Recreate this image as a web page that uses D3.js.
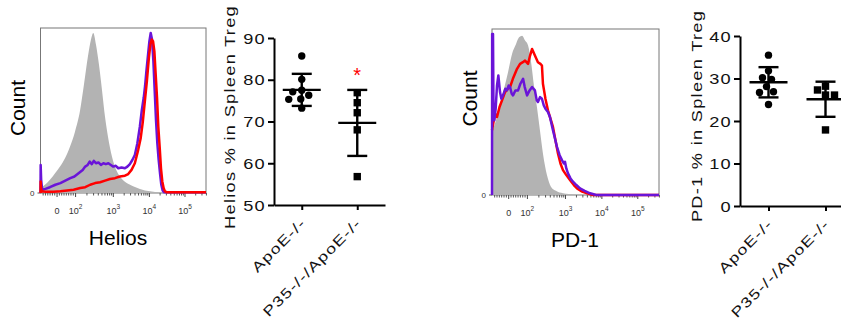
<!DOCTYPE html>
<html>
<head>
<meta charset="utf-8">
<script src="https://cdnjs.cloudflare.com/ajax/libs/d3/7.8.5/d3.min.js"></script>
<style>
  body { margin: 0; background: #fff; }
  svg { display: block; }
</style>
</head>
<body>
<div id="chart"></div>
<script>
const FONT = '"Liberation Sans", Arial, sans-serif'

// histogram x axis is in display channels (0..1000 across the plot)
const histTickChannels = [97, 209, 437, 655, 870]
const histTickLabels = ['0', '10^2', '10^3', '10^4', '10^5']

// Helios histograms: [channel, % of max]
const heliosControl = [[0, 3], [27, 5], [57, 8], [88, 12], [118, 16], [148, 21], [178, 28], [208, 37], [239, 50],
  [263, 66], [287, 83], [305, 93], [319, 97], [335, 90], [353, 78], [372, 62], [390, 46], [408, 34], [432, 22],
  [462, 13], [492, 8.5], [541, 5], [601, 2.5], [662, 1], [722, 0.3], [782, 0], [1000, 0]]
const heliosApoEHist = [[0, 0], [1, 17], [4, 8], [10, 2], [30, 2.5], [57, 3.5], [90, 5], [120, 6], [150, 7.5], [180, 9],
  [205, 10], [230, 12], [255, 14], [270, 16], [285, 17], [297, 19], [310, 17.5], [322, 19.5], [335, 18], [350, 18.5],
  [365, 17], [380, 18], [395, 17.5], [410, 18], [425, 17], [440, 16], [455, 16.5], [470, 15], [490, 15.5], [510, 15],
  [525, 16], [540, 17.5], [555, 20], [570, 23], [585, 30], [600, 40], [612, 50], [624, 58], [632, 65], [640, 74],
  [650, 84], [658, 92], [666, 97], [674, 93], [682, 80], [690, 62], [698, 44], [706, 30], [714, 20], [722, 12],
  [730, 5], [738, 1.5], [746, 0.5], [1000, 0.5]]
const heliosP35Hist = [[0, 0], [1, 7], [3, 3], [8, 1], [30, 0.8], [80, 0.8], [120, 1], [160, 1.5], [200, 2], [240, 3],
  [270, 3.5], [300, 5], [330, 6], [360, 6.5], [390, 7.5], [420, 8.5], [450, 9], [480, 10], [510, 10.5], [530, 11.5],
  [550, 14], [570, 18], [590, 26], [605, 33], [618, 43], [630, 55], [643, 68], [655, 82], [664, 90], [672, 93],
  [680, 92], [688, 86], [696, 72], [704, 58], [712, 40], [720, 28], [728, 15], [736, 7], [744, 3], [752, 1],
  [762, 0.5], [1000, 0.5]]

// PD-1 histograms
const pd1Control = [[0, 38], [24, 45], [48, 55], [72, 64], [96, 74], [120, 85], [144, 91], [162, 95], [180, 96],
  [198, 93], [216, 90], [234, 80], [251, 66], [269, 53], [287, 39], [305, 25], [329, 12], [353, 5], [383, 2.5],
  [425, 1], [497, 0.3], [590, 0], [1000, 0]]
const pd1P35Hist = [[0, 39], [18, 49], [30, 47], [45, 53], [60, 57], [78, 62], [95, 64], [108, 65], [125, 70],
  [150, 76], [168, 79], [185, 80], [198, 81], [216, 79], [228, 84], [240, 88], [257, 84], [275, 80], [290, 79],
  [299, 78], [305, 67], [320, 58], [335, 51], [350, 46], [365, 41], [380, 33], [395, 25], [410, 19], [425, 15],
  [445, 12], [467, 9], [490, 6], [509, 4], [540, 2], [569, 1], [605, 0], [1000, 0]]
const pd1ApoEHist = [[0, 0], [1, 97], [6, 97], [9, 50], [14, 45], [22, 52], [30, 66], [38, 72], [48, 62], [56, 58],
  [66, 60], [80, 64], [90, 63], [100, 66], [108, 65], [118, 61], [126, 60], [140, 63], [156, 63], [170, 67],
  [186, 70], [196, 65], [210, 60], [225, 63], [240, 65], [257, 63], [268, 57], [275, 56], [288, 59], [299, 58],
  [310, 54], [320, 52], [335, 50], [347, 47], [365, 39], [377, 34], [389, 29], [405, 24], [419, 21], [430, 19],
  [437, 20], [445, 16], [455, 13], [470, 10], [485, 8], [505, 6], [527, 4], [555, 2.5], [587, 1], [620, 0.2],
  [640, 0], [1000, 0]]

// scatter data (% in spleen Treg)
const groups = ['ApoE-/-', 'P35-/-/ApoE-/-']
const heliosApoE = [85.7, 80.1, 77.5, 77.1, 76.3, 75.4, 75.3, 73.2]
const heliosP35 = [76.9, 74.5, 72.1, 68.0, 56.8]
const heliosTicks = [50, 60, 70, 80, 90]
const heliosStars = ['', '*']

const pd1ApoE = [35.5, 31.8, 30.2, 29.8, 28.1, 26.9, 26.7, 23.9]
const pd1P35 = [28.2, 27.3, 26.1, 26.1, 17.9]
const pd1Ticks = [0, 10, 20, 30, 40]
const pd1Stars = ['', '']

const PURPLE = '#6a14d8'
const RED = '#ff0000'

const svg = d3.select('#chart').append('svg')
  .attr('width', 841)
  .attr('height', 320)
  .attr('font-family', FONT)

function drawHistogram(box, control, lines, xLabel, countX, countY, labelX, labelY) {
  const x = d3.scaleLinear().domain([0, 1000]).range([box.x0, box.x1])
  const y = d3.scaleLinear().domain([0, 100]).range([box.y1, box.y0])
  const g = svg.append('g')

  g.append('rect')
    .attr('x', box.x0).attr('y', box.y0)
    .attr('width', box.x1 - box.x0).attr('height', box.y1 - box.y0)
    .attr('fill', 'none').attr('stroke', '#777')

  // minor ticks: linear part near zero + log decades
  let minor = d3.range(13, 200, 14).filter(c => Math.abs(c - histTickChannels[0]) > 4)
  for (let i = 1; i < histTickChannels.length; i++) {
    const start = histTickChannels[i]
    const w = i < histTickChannels.length - 1 ? histTickChannels[i + 1] - start : 215
    d3.range(2, 10).forEach(m => minor.push(start + Math.log10(m) * w))
  }
  minor = minor.filter(c => c < 1000)

  const minorAxis = d3.axisBottom(x).tickValues(minor).tickSize(2.5).tickFormat('')
  const ma = g.append('g').attr('transform', `translate(0,${box.y1})`).call(minorAxis)
  ma.select('.domain').remove()
  ma.selectAll('line').attr('stroke', '#555')

  const majorAxis = d3.axisBottom(x).tickValues(histTickChannels).tickSize(4).tickFormat('')
  const xa = g.append('g').attr('transform', `translate(0,${box.y1})`).call(majorAxis)
  xa.select('.domain').remove()
  xa.selectAll('line').attr('stroke', '#444')
  xa.selectAll('.tick text')
    .attr('y', 21).attr('dy', null)
    .attr('font-family', FONT).attr('font-size', 9).attr('fill', '#333')
    .each(function(d, i) {
      const parts = histTickLabels[i].split('^')
      const t = d3.select(this)
      t.append('tspan').text(parts[0])
      if (parts[1]) t.append('tspan').attr('dy', -5).attr('font-size', 6.5).text(parts[1])
    })

  // y "0" label
  g.append('line')
    .attr('x1', box.x0 - 3).attr('x2', box.x0).attr('y1', box.y1).attr('y2', box.y1)
    .attr('stroke', '#555')
  g.append('text')
    .attr('x', box.x0 - 6).attr('y', box.y1 + 3)
    .attr('text-anchor', 'end').attr('font-size', 8).attr('fill', '#333')
    .text('0')

  const area = d3.area().x(d => x(d[0])).y0(y(0)).y1(d => y(d[1])).curve(d3.curveMonotoneX)
  g.append('path').attr('d', area(control)).attr('fill', '#b3b3b3')

  const line = d3.line().x(d => x(d[0])).y(d => y(d[1]))
  lines.forEach(s => {
    g.append('path')
      .attr('d', line(s.data))
      .attr('fill', 'none')
      .attr('stroke', s.color)
      .attr('stroke-width', 2.5)
      .attr('stroke-linejoin', 'round')
  })

  g.append('text')
    .attr('transform', `translate(${countX},${countY}) rotate(-90)`)
    .attr('text-anchor', 'middle').attr('font-size', 21)
    .text('Count')
  g.append('text')
    .attr('x', labelX).attr('y', labelY)
    .attr('text-anchor', 'middle').attr('font-size', 21)
    .text(xLabel)
}

// simple beeswarm offsets in pixels
function swarm(values, y, minDist) {
  const placed = []
  const offsets = new Array(values.length)
  const order = d3.range(values.length).sort((a, b) => values[b] - values[a])
  order.forEach(i => {
    const py = y(values[i])
    let dx = 0
    for (let k = 0; k < 80; k++) {
      dx = (k % 2 ? -1 : 1) * Math.ceil(k / 2)
      if (placed.every(p => Math.hypot(dx - p.dx, py - p.py) >= minDist)) break
    }
    placed.push({ dx, py })
    offsets[i] = dx
  })
  return offsets
}

function drawScatter(o) {
  const x = d3.scalePoint().domain(groups).range(o.xRange).padding(0.5)
  const y = d3.scaleLinear().domain(d3.extent(o.ticks)).range(o.yRange)
  const g = svg.append('g')

  const yAxis = d3.axisLeft(y).tickValues(o.ticks).tickSize(6).tickSizeOuter(0)
  const ya = g.append('g')
    .attr('transform', `translate(${o.xRange[0]},0)`)
    .call(yAxis)
    .attr('font-family', FONT).attr('font-size', 14)
  ya.selectAll('path, line').attr('stroke', '#000').attr('stroke-width', 2)
  ya.selectAll('text')
    .attr('x', null).attr('dy', '0.36em')
    .attr('transform', 'translate(-8,0) scale(1.3,1)')
    .attr('letter-spacing', 1).attr('fill', '#111')

  const xAxis = d3.axisBottom(x).tickSize(5).tickSizeOuter(0).tickFormat('')
  const xa = g.append('g')
    .attr('transform', `translate(0,${o.yRange[0]})`)
    .call(xAxis)
  xa.selectAll('path, line').attr('stroke', '#000').attr('stroke-width', 2)

  g.selectAll('.xlabel')
    .data(groups)
    .join('text')
    .attr('class', 'xlabel')
    .attr('transform', d => `translate(${x(d) + 5},${o.yRange[0] + 19}) rotate(-45) scale(1.28,1)`)
    .attr('text-anchor', 'end')
    .attr('font-size', 14).attr('letter-spacing', 1).attr('fill', '#111')
    .text(d => d)

  o.values.forEach((vals, gi) => {
    const cx = x(groups[gi])
    const offs = swarm(vals, y, 8.5)
    if (gi === 0) {
      g.selectAll(null).data(vals).join('circle')
        .attr('cx', (d, i) => cx + offs[i])
        .attr('cy', d => y(d))
        .attr('r', 3.7)
    } else {
      g.selectAll(null).data(vals).join('rect')
        .attr('x', (d, i) => cx + offs[i] - 3.7)
        .attr('y', d => y(d) - 3.7)
        .attr('width', 7.4).attr('height', 7.4)
    }

    const m = d3.mean(vals)
    const sd = d3.deviation(vals)
    const bars = g.append('g').attr('stroke', '#000').attr('stroke-width', 2.4)
    bars.append('line').attr('x1', cx).attr('x2', cx).attr('y1', y(m + sd)).attr('y2', y(m - sd))
    bars.append('line').attr('x1', cx - 19).attr('x2', cx + 19).attr('y1', y(m)).attr('y2', y(m))
    ;[m + sd, m - sd].forEach(v => {
      bars.append('line').attr('x1', cx - 10).attr('x2', cx + 10).attr('y1', y(v)).attr('y2', y(v))
    })

    if (o.stars[gi]) {
      g.append('text')
        .attr('x', cx).attr('y', y(m + sd) - 8)
        .attr('text-anchor', 'middle').attr('font-size', 20).attr('fill', RED)
        .text(o.stars[gi])
    }
  })

  g.append('text')
    .attr('transform', `translate(${o.titleX},${o.titleY}) rotate(-90) scale(1.3,1)`)
    .attr('text-anchor', 'middle')
    .attr('font-size', 14).attr('letter-spacing', 1).attr('fill', '#111')
    .text(o.title)
}

drawHistogram({ x0: 40.5, x1: 206, y0: 28, y1: 193 }, heliosControl,
  [{ data: heliosApoEHist, color: PURPLE }, { data: heliosP35Hist, color: RED }],
  'Helios', 25, 108, 118, 245)

drawHistogram({ x0: 492, x1: 659, y0: 29, y1: 195 }, pd1Control,
  [{ data: pd1P35Hist, color: RED }, { data: pd1ApoEHist, color: PURPLE }],
  'PD-1', 477, 98.5, 575, 247)

drawScatter({
  xRange: [274, 385], yRange: [205, 38], ticks: heliosTicks,
  values: [heliosApoE, heliosP35], stars: heliosStars,
  title: 'Helios % in Spleen Treg', titleX: 235, titleY: 117
})

drawScatter({
  xRange: [740, 854], yRange: [206, 36], ticks: pd1Ticks,
  values: [pd1ApoE, pd1P35], stars: pd1Stars,
  title: 'PD-1 % in Spleen Treg', titleX: 702, titleY: 116
})
</script>
</body>
</html>
